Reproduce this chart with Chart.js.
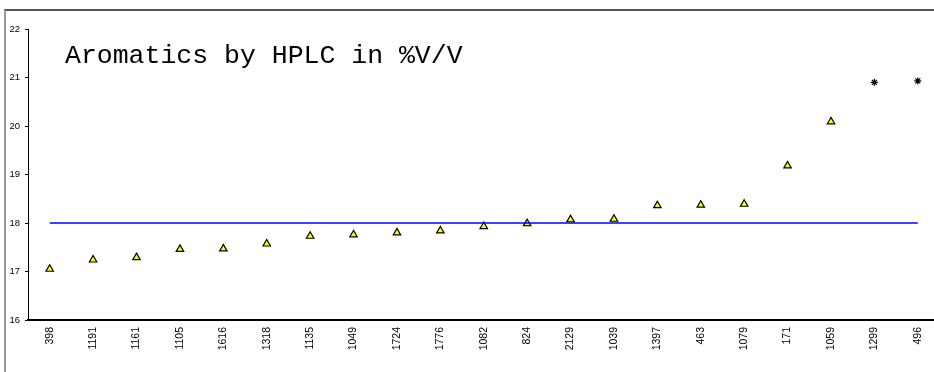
<!DOCTYPE html>
<html>
<head>
<meta charset="utf-8">
<script src="https://cdn.jsdelivr.net/npm/chart.js@4/dist/chart.umd.min.js"></script>
<style>
html, body { margin: 0; padding: 0; background: #fff; }
#wrap { position: relative; width: 934px; height: 372px; overflow: hidden; }
#frame { position: absolute; left: 4px; top: 9px; width: 1000px; height: 400px;
         border-top: 2px solid #555; border-left: 2px solid #999; }
#box { position: absolute; left: 0; top: 0; width: 945px; height: 372px; }
</style>
</head>
<body>
<div id="wrap">
  <div id="frame"></div>
  <div id="box"><canvas id="aroChart"></canvas></div>
</div>
<script>
var labels = ['398','1191','1161','1105','1616','1318','1135','1049','1724','1776','1082',
              '824','2129','1039','1397','463','1079','171','1059','1299','496'];
var results = [17.05, 17.24, 17.29, 17.46, 17.47, 17.57, 17.73, 17.76, 17.80, 17.84, 17.93,
               17.99, 18.07, 18.08, 18.36, 18.37, 18.39, 19.18, 20.09, null, null];
var outliers = [null, null, null, null, null, null, null, null, null, null, null,
                null, null, null, null, null, null, null, null, 20.90, 20.93];
var mean = [18, 18, 18, 18, 18, 18, 18, 18, 18, 18, 18,
            18, 18, 18, 18, 18, 18, 18, 18, 18, 18];
var yTicks = [16, 17, 18, 19, 20, 21, 22];
var title = 'Aromatics by HPLC in %V/V';

// title sits inside the plot area, like the original sheet
var titlePlugin = {
    id: 'insideTitle',
    afterDraw: function(chart) {
        var ctx = chart.ctx;
        ctx.save();
        ctx.font = '26.5px "Liberation Mono", "Courier New", monospace';
        ctx.fillStyle = '#000';
        ctx.textBaseline = 'alphabetic';
        ctx.fillText(title, 65, 63);
        ctx.restore();
    }
};

var ctx = document.getElementById('aroChart').getContext('2d');
var myChart = new Chart(ctx, {
    type: 'line',
    data: {
        labels: labels,
        datasets: [{
            label: 'Mean',
            data: mean,
            borderColor: '#0000ff',
            borderWidth: 1.5,
            pointRadius: 0,
            fill: false
        }, {
            label: 'Results',
            data: results,
            showLine: false,
            pointStyle: 'triangle',
            pointRadius: 4.3,
            pointBackgroundColor: '#ffff00',
            pointBorderColor: '#000',
            pointBorderWidth: 1.2
        }, {
            label: 'Outliers',
            data: outliers,
            showLine: false,
            pointStyle: 'star',
            pointRadius: 3.5,
            pointBorderColor: '#000',
            pointBorderWidth: 1.2
        }]
    },
    options: {
        responsive: true,
        maintainAspectRatio: false,
        animation: false,
        layout: { padding: { top: 29, left: 0, right: 1, bottom: 0 } },
        plugins: {
            legend: { display: false },
            tooltip: { enabled: false },
            title: { display: false }
        },
        scales: {
            x: {
                offset: true,
                grid: { drawOnChartArea: false, drawTicks: false },
                border: { color: '#000', width: 2 },
                ticks: {
                    color: '#000',
                    font: { family: '"Liberation Sans", Arial, sans-serif', size: 10.5 },
                    minRotation: 90,
                    maxRotation: 90,
                    padding: 7,
                    autoSkip: false
                },
                afterFit: function(scale) { scale.height = 52; }
            },
            y: {
                min: 16,
                max: 22,
                afterBuildTicks: function(scale) {
                    scale.ticks = yTicks.map(function(v) { return { value: v }; });
                },
                grid: { drawOnChartArea: false, drawTicks: true, tickLength: 3, color: '#000' },
                border: { color: '#000', width: 1 },
                ticks: {
                    color: '#000',
                    font: { family: '"Liberation Sans", Arial, sans-serif', size: 9.5 },
                    padding: 5
                },
                afterFit: function(scale) { scale.width = 28; }
            }
        }
    },
    plugins: [titlePlugin]
});
</script>
</body>
</html>
